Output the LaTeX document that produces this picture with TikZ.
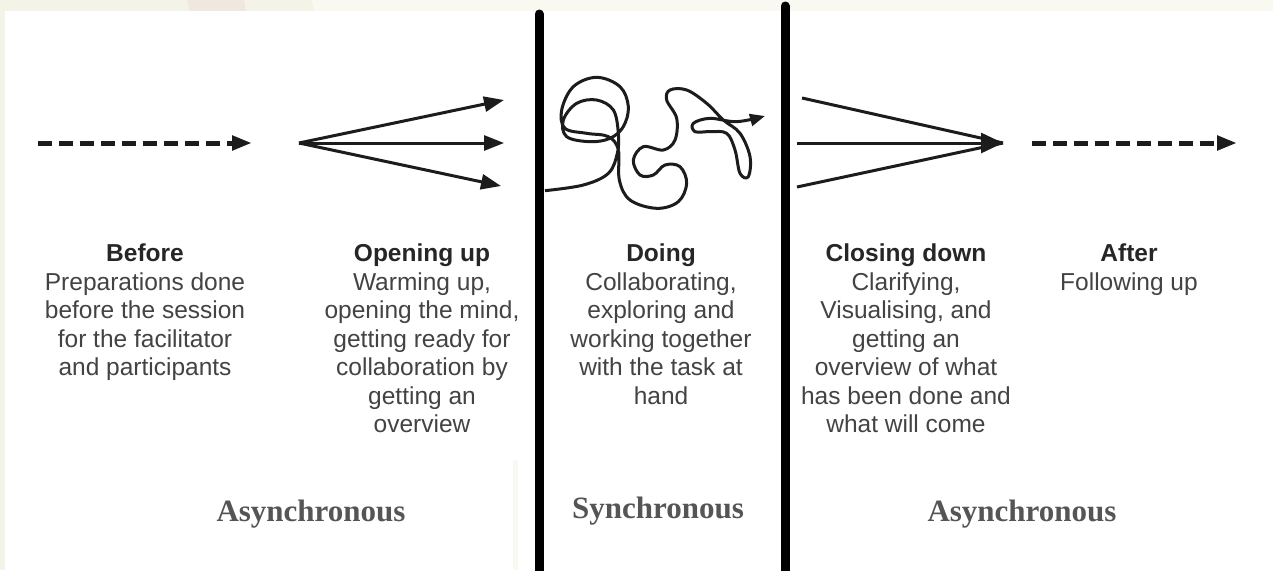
\documentclass[tikz,border=0pt]{standalone}
\usepackage{fontspec}
\setmainfont{Liberation Sans}
\newfontfamily\modefont{Liberation Serif}
\usetikzlibrary{arrows.meta,positioning}

\definecolor{ink}{HTML}{1C1C1C}
\definecolor{headink}{HTML}{262626}
\definecolor{bodygray}{HTML}{434343}
\definecolor{modegray}{HTML}{555555}
\definecolor{cream}{HTML}{F4F3E7}
\definecolor{creamlight}{HTML}{F9F9F2}
\definecolor{peach}{HTML}{F0E8DF}

\tikzset{
  phase/.style={align=center, inner sep=0pt, text=bodygray,
    font=\fontsize{24.5}{28.5}\selectfont},
  mode/.style={anchor=base, inner sep=0pt, text=modegray,
    font=\modefont\bfseries\fontsize{31}{34}\selectfont},
  fanline/.style={draw=ink, line width=3pt},
  dashline/.style={draw=ink, line width=5pt, dash pattern=on 14pt off 7pt,
    -{Triangle[length=20pt,width=14pt]}},
  divider/.style={line width=9pt, line cap=round},
}
\newcommand{\phasehead}[1]{\textcolor{headink}{\bfseries #1}}

\begin{document}
\begin{tikzpicture}[x=1pt,y=-1pt]
\useasboundingbox (0,0) rectangle (1273,570);
\fill[cream] (0,0) rectangle (1273,570);
\fill[peach] (187,0) -- (244,0) -- (246,11) -- (190,11) -- cycle;
\fill[creamlight] (312,0) -- (1273,0) -- (1273,11) -- (314,11) -- cycle;
\fill[white] (5,11) rectangle (1273,570);
\fill[creamlight] (513,460) rectangle (518,570);

% arrow row
\coordinate (d0) at (145,143);
\coordinate (d1) at (422,143);
\coordinate (d2) at (661,143);
\coordinate (d3) at (906,143);
\coordinate (d4) at (1129,143);

\coordinate (b0) at (38,143);
\coordinate (b1) at (252,143);
\draw[dashline] (b0) -- (b1);

\coordinate (o0) at (299,143);
\coordinate (o1) at (504,100);
\coordinate (o2) at (504,143);
\coordinate (o3) at (501,186);
\foreach \e in {o1,o2,o3}
  \draw[fanline, -{Triangle[length=20pt,width=15pt]}] (o0) -- (\e);

\coordinate (c0) at (1003,143);
\coordinate (c1) at (802,98);
\coordinate (c2) at (797,143);
\coordinate (c3) at (797,187);
\draw[fanline] (c1) -- (c0);
\draw[fanline] (c3) -- (c0);
\draw[fanline, -{Triangle[length=22pt,width=20pt]}] (c2) -- (c0);

\coordinate (a0) at (1032,143);
\coordinate (a1) at (1237,143);
\draw[dashline] (a0) -- (a1);

% the tangle
\begin{scope}[shift={(530,0)}, scale=1/3]
\draw[ink, line width=3pt, line join=round, -{Triangle[length=15pt,width=12pt]}]
  plot[smooth, tension=0.6] coordinates {
  (45,572) (160,555) (235,520) (262,460) (265,400) (250,330) (200,300)
  (140,310) (100,360) (110,410) (180,425) (240,415) (280,380) (295,320)
  (270,260) (200,232) (130,260) (95,330) (105,385) (170,400) (235,410)
  (265,450) (268,540) (300,600) (380,625) (445,605) (470,550) (450,500)
  (405,495) (370,525) (330,525) (310,480) (340,440) (400,450) (435,420)
  (440,355) (410,300) (420,270) (470,270) (530,310) (580,360) (630,400)
  (660,470) (655,530) (630,520) (615,450) (590,400) (540,395) (495,395)
  (490,370) (540,355) (620,365) (705,348)};
\end{scope}

% dividers
\coordinate (l0) at (539,14);
\coordinate (l1) at (539,580);
\coordinate (r0) at (785,6);
\coordinate (r1) at (785,580);
\draw[divider] (l0) -- (l1);
\draw[divider] (r0) -- (r1);

% phase texts
\node[phase] (before) [below=101pt of d0]
  {\phasehead{Before}\\ Preparations done\\ before the session\\
   for the facilitator\\ and participants};
\node[phase] (opening) [below=101pt of d1]
  {\phasehead{Opening up}\\ Warming up,\\ opening the mind,\\
   getting ready for\\ collaboration by\\ getting an\\ overview};
\node[phase] (doing) [below=101pt of d2]
  {\phasehead{Doing}\\ Collaborating,\\ exploring and\\
   working together\\ with the task at\\ hand};
\node[phase] (closing) [below=101pt of d3]
  {\phasehead{Closing down}\\ Clarifying,\\ Visualising, and\\
   getting an\\ overview of what\\ has been done and\\ what will come};
\node[phase] (after) [below=101pt of d4]
  {\phasehead{After}\\ Following up};

\node[mode] (async0) at (311,521) {Asynchronous};
\node[mode] (sync) at (658,518) {Synchronous};
\node[mode] (async1) at (1022,521) {Asynchronous};

\end{tikzpicture}
\end{document}
